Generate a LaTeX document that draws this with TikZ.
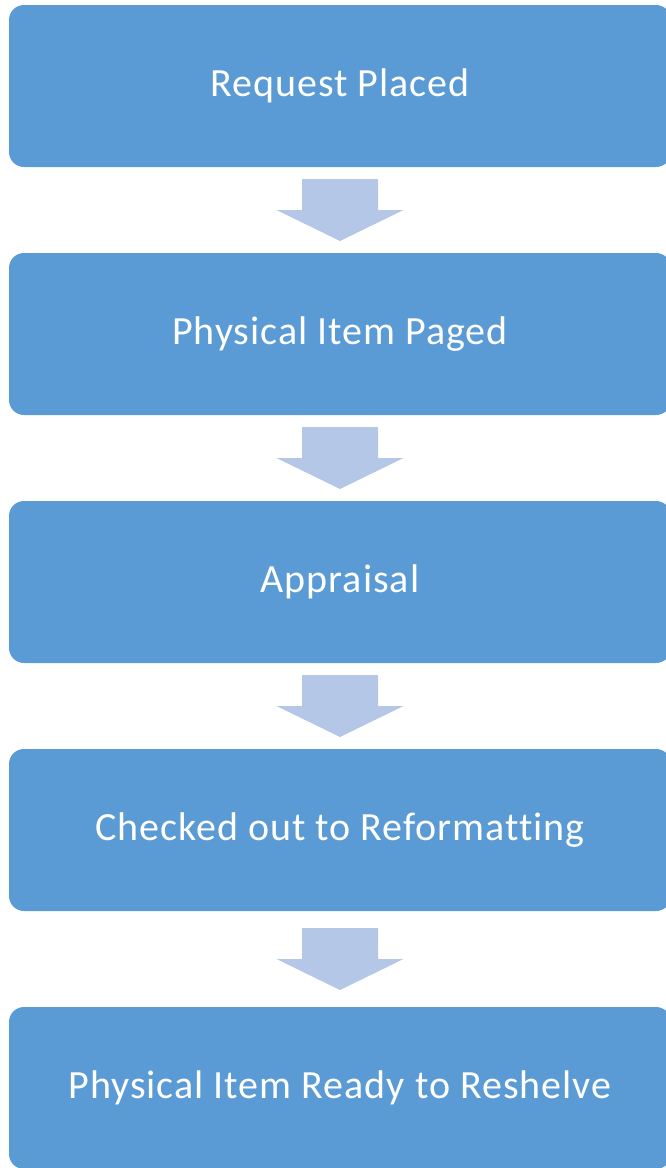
\documentclass[tikz,border=0pt]{standalone}
\usepackage{fontspec}
\setmainfont{Carlito}[Ligatures=NoCommon,LetterSpace=2.5]
\usetikzlibrary{calc}
\definecolor{boxblue}{HTML}{5B9BD5}
\definecolor{arrowblue}{HTML}{B4C7E7}
\tikzset{
  stepbox/.style={rectangle,rounded corners=15pt,fill=boxblue,text=white,
    minimum width=662pt,minimum height=162pt,inner sep=0pt,
    font=\fontsize{40}{48}\selectfont},
  downarrow/.pic={
    \fill[arrowblue] (-38,-31) -- (38,-31) -- (38,0) -- (63.5,0)
      -- (0,31) -- (-63.5,0) -- (-38,0) -- cycle;
  }
}
\begin{document}
\begin{tikzpicture}[x=1pt,y=-1pt]
        \useasboundingbox (0,0) rectangle (666,1168);
        \node[stepbox] (request) at (340,86) {Request Placed};
        \node[stepbox] (paged) at (340,334) {Physical Item Paged};
        \node[stepbox] (appraisal) at (340,582) {Appraisal};
        \node[stepbox] (checkout) at (340,830) {Checked out to Reformatting};
        \node[stepbox] (reshelve) at (340,1088) {Physical Item Ready to Reshelve};
        \pic at ($(request.south)!0.5!(paged.north)$) {downarrow};
        \pic at ($(paged.south)!0.5!(appraisal.north)$) {downarrow};
        \pic at ($(appraisal.south)!0.5!(checkout.north)$) {downarrow};
        \pic at ($(checkout.south)!0.5!(reshelve.north)$) {downarrow};
      \end{tikzpicture}
\end{document}
